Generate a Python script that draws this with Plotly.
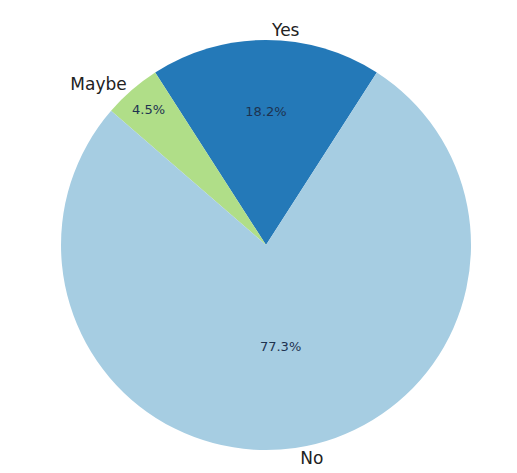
import plotly.graph_objects as go

labels = ["Yes", "Maybe", "No"]
values = [4, 1, 17]
colors = ["#2479b8", "#b0de88", "#a6cde2"]

total = sum(values)
rot = -values[0] / total * 180.0

domain = dict(x=[0.1025, 0.8956], y=[0.0655, 0.9323])

fig = go.Figure()
fig.add_trace(go.Pie(
    labels=labels, values=values, sort=False, direction="counterclockwise",
    rotation=rot, domain=domain,
    marker=dict(colors=colors, line=dict(width=0)),
    textinfo="percent", texttemplate="%{percent:.1%}",
    textposition="inside", insidetextorientation="horizontal",
    textfont=dict(family="DejaVu Sans", size=13, color="#1e3350"),
    showlegend=False, hoverinfo="label+percent",
))
fig.add_trace(go.Pie(
    labels=labels, values=values, sort=False, direction="counterclockwise",
    rotation=rot, domain=domain,
    marker=dict(colors=["rgba(0,0,0,0)"] * 3, line=dict(width=0)),
    textinfo="label", textposition="outside",
    outsidetextfont=dict(family="DejaVu Sans", size=17, color="#222222"),
    showlegend=False, hoverinfo="skip", automargin=False,
))
fig.update_layout(
    width=517, height=473,
    margin=dict(l=0, r=0, t=0, b=0),
    paper_bgcolor="white", plot_bgcolor="white",
)
fig.write_html("out.html")
